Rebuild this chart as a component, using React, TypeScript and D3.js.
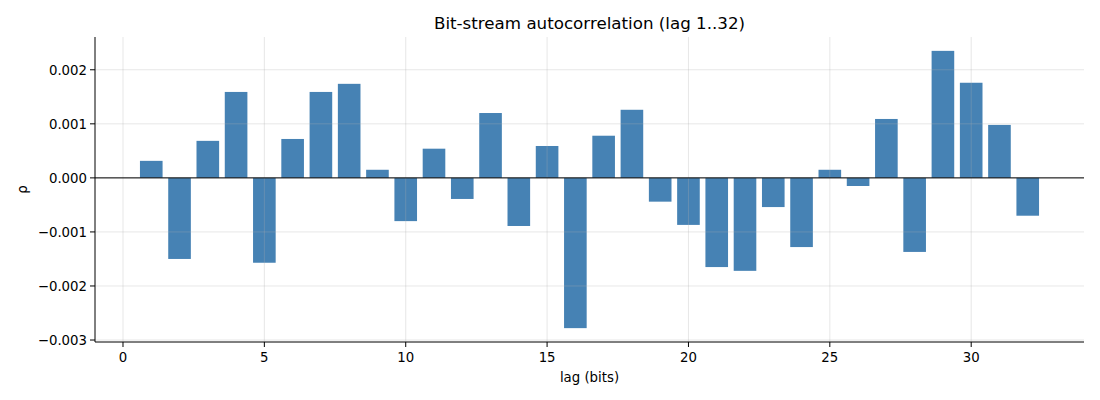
import * as d3 from "d3";

const lags = d3.range(1, 33);
const rho = [
  0.000315, -0.0015, 0.000685, 0.00159, -0.00157, 0.00072, 0.00159, 0.00174,
  0.00015, -0.0008, 0.00054, -0.00039, 0.0012, -0.00089, 0.00059, -0.00278,
  0.00078, 0.00126, -0.00044, -0.00087, -0.00165, -0.00172, -0.00054, -0.00128,
  0.00015, -0.00015, 0.00109, -0.00137, 0.00235, 0.00176, 0.00098, -0.0007
];
const xTicks = [0, 5, 10, 15, 20, 25, 30];
const yTicks = [-0.003, -0.002, -0.001, 0, 0.001, 0.002];

export default function App() {
  const width = 1100;
  const height = 400;
  const margin = { top: 37, right: 16, bottom: 58, left: 95 };
  const barWidth = 0.8;
  const xMin = 1 - barWidth / 2;
  const xMax = 32 + barWidth / 2;
  const xPad = (xMax - xMin) * 0.05;
  const yLo = d3.min(rho) ?? 0;
  const yHi = d3.max(rho) ?? 0;
  const yPad = (yHi - yLo) * 0.05;
  const x = d3.scaleLinear([xMin - xPad, xMax + xPad], [margin.left, width - margin.right]);
  const y = d3.scaleLinear([yLo - yPad, yHi + yPad], [height - margin.bottom, margin.top]);
  const plotBottom = height - margin.bottom;
  const plotRight = width - margin.right;
  const font = "DejaVu Sans, sans-serif";

  return (
    <div style={{ position: "absolute", left: 0, top: 0 }}>
      <svg width={width} height={height} viewBox={`0 0 ${width} ${height}`} style={{ display: "block", background: "#fff" }}>
        <text x={(margin.left + plotRight) / 2} y={29} textAnchor="middle" fontFamily={font} fontSize={16.7} fill="#000">
          Bit-stream autocorrelation (lag 1..32)
        </text>
        {lags.map((lag, i) => {
          const v = rho[i];
          return (
            <rect
              key={lag}
              x={x(lag - barWidth / 2)}
              width={x(lag + barWidth / 2) - x(lag - barWidth / 2)}
              y={y(Math.max(0, v))}
              height={Math.abs(y(v) - y(0))}
              fill="#4682b4"
            />
          );
        })}
        {xTicks.map((t) => (
          <line key={`gx${t}`} x1={x(t)} x2={x(t)} y1={margin.top} y2={plotBottom} stroke="#b0b0b0" strokeOpacity={0.3} strokeWidth={1} />
        ))}
        {yTicks.map((t) => (
          <line key={`gy${t}`} x1={margin.left} x2={plotRight} y1={y(t)} y2={y(t)} stroke="#b0b0b0" strokeOpacity={0.3} strokeWidth={1} />
        ))}
        <line x1={margin.left} x2={plotRight} y1={y(0)} y2={y(0)} stroke="#000" strokeWidth={1} />
        <line x1={margin.left} x2={margin.left} y1={margin.top} y2={plotBottom} stroke="#000" strokeWidth={1} />
        <line x1={margin.left} x2={plotRight} y1={plotBottom} y2={plotBottom} stroke="#000" strokeWidth={1} />
        {xTicks.map((t) => (
          <g key={`tx${t}`}>
            <line x1={x(t)} x2={x(t)} y1={plotBottom} y2={plotBottom + 5} stroke="#000" />
            <text x={x(t)} y={plotBottom + 20} textAnchor="middle" fontFamily={font} fontSize={13.3} fill="#000">
              {t}
            </text>
          </g>
        ))}
        {yTicks.map((t) => (
          <g key={`ty${t}`}>
            <line x1={margin.left - 5} x2={margin.left} y1={y(t)} y2={y(t)} stroke="#000" />
            <text x={margin.left - 8} y={y(t) + 5} textAnchor="end" fontFamily={font} fontSize={13.3} fill="#000">
              {t < 0 ? "\u2212" : ""}{Math.abs(t).toFixed(3)}
            </text>
          </g>
        ))}
        <text x={(margin.left + plotRight) / 2} y={382} textAnchor="middle" fontFamily={font} fontSize={13.3} fill="#000">
          lag (bits)
        </text>
        <text
          transform={`translate(27, ${(margin.top + plotBottom) / 2}) rotate(-90)`}
          textAnchor="middle"
          fontFamily={font}
          fontSize={13.3}
          fill="#000"
        >
          ρ
        </text>
      </svg>
    </div>
  );
}
